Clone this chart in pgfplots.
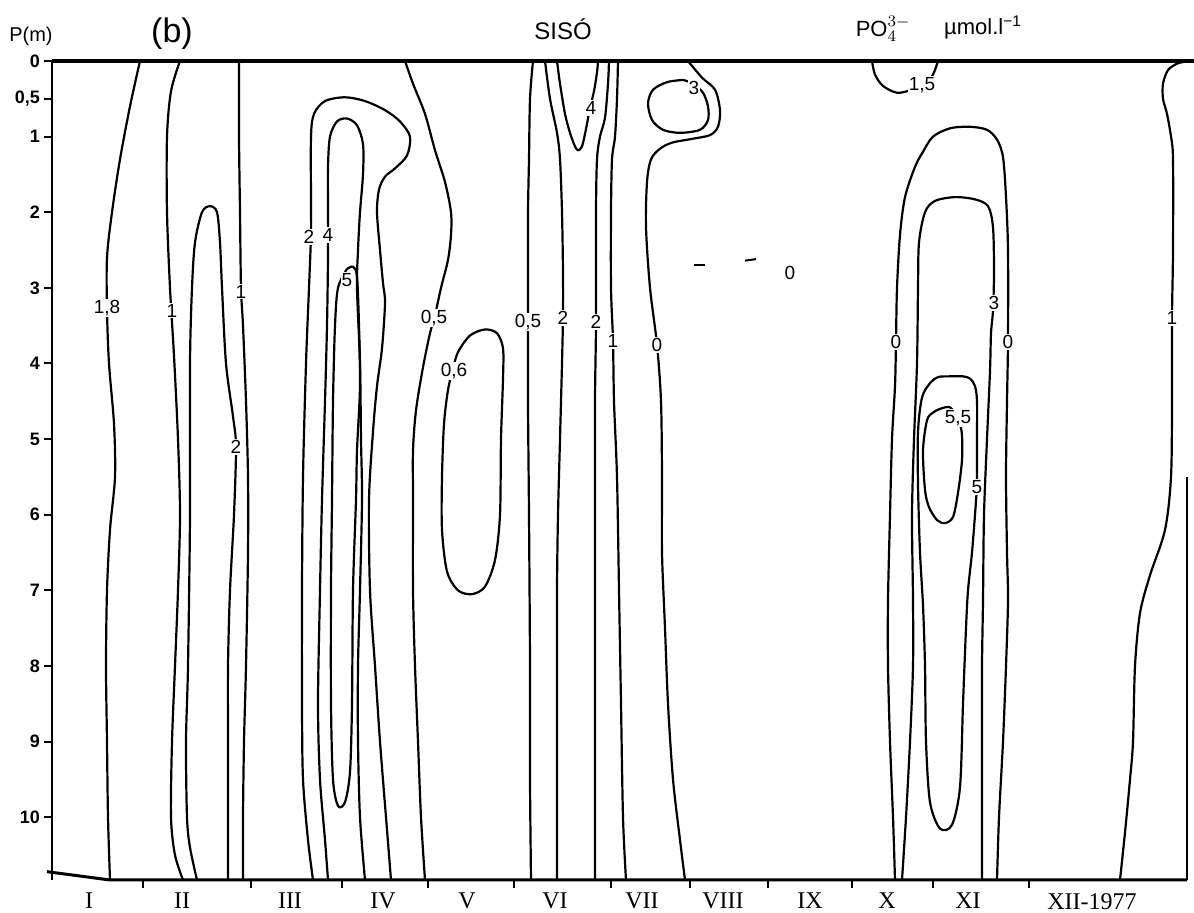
\documentclass[border=0pt]{standalone}
\usepackage{pgfplots}
\pgfplotsset{compat=1.18}
\usepackage{fontspec}
\setmainfont{Liberation Sans}
\newfontfamily\serifm{Liberation Serif}
\newcommand\lab{\fontsize{9.5}{10}\selectfont}
\pgfplotsset{cl/.style={black, solid, line width=1.1pt, smooth, mark=none}}
\begin{document}
\begin{tikzpicture}
\useasboundingbox (0,0) rectangle (597pt,456.5pt);
\begin{axis}[
  at={(26pt,16.5pt)}, anchor=south west,
  width=567.5pt, height=409.5pt, scale only axis,
  xmin=52, xmax=1187, ymin=0, ymax=10.83, y dir=reverse,
  axis line style={draw=none},
  clip=false,
  xtick={143,251,342,428,514,611,690,768,852,933,1029},
  xticklabels={},
  xtick pos=left,
  ytick={0,0.5,1,2,3,4,5,6,7,8,9,10},
  yticklabels={0,{0,5},1,2,3,4,5,6,7,8,9,10},
  ytick pos=left,
  tick align=outside,
  major tick length=4pt,
  tick style={line width=1pt, black},
  yticklabel style={font=\fontsize{9}{10}\selectfont\bfseries, xshift=1.5pt},
]
% frame
\draw[line width=2pt] (axis cs:52,0) -- (axis cs:1194,0);
\draw[line width=1.2pt] (axis cs:52,0) -- (axis cs:52,10.83);
\draw[line width=1.5pt] (axis cs:47,10.72) -- (axis cs:110,10.83) -- (axis cs:1187,10.83);
\draw[line width=1pt] (axis cs:1187,5.5) -- (axis cs:1187,10.83);

% 1.8
\addplot[cl] coordinates {(140,0)(130,0.6)(120,1.3)(112,2.0)(107,2.6)(107,3.3)(109,4.0)(114,4.8)(115,5.5)(110,6.2)(107,7.0)(106,8)(107,9)(108,10)(110,10.83)};
% 1 (II)
\addplot[cl] coordinates {(180,0)(171,0.4)(167,1)(167,2)(170,3)(174,3.9)(178,5)(180,6)(178,7)(175,8)(172,9)(171,10)(175,10.5)(183,10.83)};
% 2 (II, inverted U)
\addplot[cl] coordinates {(197,10.83)(190,10.4)(187,10)(186,9)(188,8)(190,6)(190,4)(192,3)(195,2.4)(202,2.0)(210,1.92)(217,2.0)(220,2.4)(222,3)(226,4)(233,4.7)(236,5.1)(234,6)(230,7)(228,8)(228,9)(228,10)(228,10.83)};
% 1 (II right)
\addplot[cl] coordinates {(239,0)(239,1)(240,2)(241,3.0)(243,3.5)(246,4.5)(248,5.5)(248,6.5)(246,8)(244,9)(243,10)(243,10.83)};
% 2 outer loop (III-IV)
\addplot[cl] coordinates {(313,10.83)(308,10.3)(303,9.5)(302,8.5)(302,7)(303,5.5)(306,4.0)(309,3.0)(311,2.3)(311,1.9)(311,1.0)(314,0.7)(325,0.53)(345,0.48)(365,0.53)(385,0.65)(400,0.8)(410,1.0)(407,1.25)(395,1.42)(385,1.53)(379,1.7)(377,2.0)(380,2.5)(383,2.94)(385,3.2)(382,3.8)(377,4.3)(373,4.9)(369,5.8)(370,7)(375,8)(380,9)(386,10)(391,10.83)};
% 4 loop (III-IV)
\addplot[cl] coordinates {(328,10.83)(325,10.3)(320,9.5)(318,8.5)(320,7)(322,5.8)(325,4.5)(327,3.5)(328,2.6)(328,2.0)(328,1.4)(330,1.0)(337,0.8)(347,0.76)(357,0.85)(363,1.1)(363,1.5)(360,2)(358,2.5)(357,3)(360,4)(361,5)(362,5.8)(360,7)(358,8)(358,9)(360,10)(365,10.83)};
% 5 loop
\addplot[cl] coordinates {(347,2.75)(338,3.0)(335,3.5)(333,4.5)(332,5.8)(331,7)(331,8.5)(333,9.5)(338,9.85)(345,9.8)(350,9.4)(352,8.5)(353,7)(356,5.8)(357,5.15)(360,4.3)(359,3.5)(357,2.85)(353,2.72)(347,2.75)};
% 0.5 (V)
\addplot[cl] coordinates {(405,0)(413,0.3)(425,0.7)(435,1.18)(445,1.6)(451,2.0)(451,2.3)(448,2.63)(441,3.0)(435,3.36)(430,3.6)(423,4.05)(416,4.62)(413,5.15)(413,5.8)(413,7)(415,8)(418,9)(421,10)(425,10.83)};
% 0.6 loop
\addplot[cl] coordinates {(453,4.07)(448,4.35)(444,4.8)(442,5.5)(442,6.2)(447,6.75)(458,7.0)(472,7.05)(485,6.95)(495,6.6)(500,6.0)(501,5.0)(503,4.2)(503,3.8)(497,3.6)(485,3.55)(470,3.63)(458,3.85)(453,4.07)};
% 0.5 (VI)
\addplot[cl] coordinates {(533,0)(530,0.5)(529,1.3)(528,2)(528,3.0)(528,4.5)(529,6)(530,8)(530,9.5)(531,10.83)};
% 2 (VI left)
\addplot[cl] coordinates {(545,0)(550,0.5)(557,0.95)(560,1.3)(562,2)(563,2.8)(563,3.35)(562,4)(560,5)(558,6)(557,7)(557,8.5)(557,10)(557,10.83)};
% 4 loop (VI)
\addplot[cl] coordinates {(557,0)(560,0.3)(565,0.7)(570,0.95)(575,1.13)(578,1.18)(582,1.13)(586,0.9)(590,0.62)(594,0.4)(597,0.15)(598,0)};
% 2 (VI right)
\addplot[cl] coordinates {(609,0)(608,0.3)(605,0.75)(600,1.0)(597,1.3)(596,2)(596,3.45)(595,4.5)(595,6)(595,8)(595,10.83)};
% 1 (VII)
\addplot[cl] coordinates {(618,0)(617,0.5)(615,1.0)(612,1.3)(611,2)(611,3)(613,3.7)(614,4.5)(617,5.5)(619,7)(621,8.5)(623,10)(626,10.83)};
% 0 (VII)
\addplot[cl] coordinates {(688,0)(702,0.22)(715,0.38)(720,0.65)(718,0.87)(710,0.98)(692,1.03)(672,1.08)(660,1.16)(651,1.3)(647,1.6)(646,2.2)(650,3.0)(657,3.75)(661,4.5)(662,5.5)(662,6.5)(665,7.5)(668,8.5)(673,9.5)(680,10.3)(685,10.83)};
% 3 loop (VII)
\addplot[cl] coordinates {(683,0.25)(693,0.3)(703,0.42)(708,0.6)(708,0.78)(700,0.91)(680,0.95)(663,0.91)(652,0.78)(648,0.56)(653,0.38)(667,0.28)(683,0.25)};
% dashes 0
\addplot[cl, line width=1pt] coordinates {(694,2.7)(705,2.7)};
\addplot[cl, line width=1pt] coordinates {(745,2.64)(756,2.62)};
% 1.5 PO4
\addplot[cl] coordinates {(872,0)(875,0.18)(883,0.33)(897,0.42)(912,0.38)(925,0.3)(933,0.18)(938,0)};
% 0 outer loop (X-XI)
\addplot[cl] coordinates {(895,10.83)(893,10)(890,9)(888,8)(888,7.13)(890,6)(892,5)(895,4.3)(896,3.7)(897,3.0)(900,2.3)(905,1.8)(915,1.4)(923,1.2)(933,1.0)(950,0.89)(970,0.87)(987,0.91)(997,1.04)(1003,1.27)(1006,1.8)(1008,2.5)(1008,3.7)(1007,4.5)(1006,5.5)(1007,6.5)(1008,7.13)(1006,8)(1003,9)(999,10)(997,10.83)};
% 3 loop (XI)
\addplot[cl] coordinates {(902,10.83)(906,10)(910,9)(913,8)(913,7.13)(912,6)(914,5)(917,4)(918,3.0)(919,2.4)(925,2.0)(935,1.85)(955,1.8)(975,1.83)(988,1.92)(993,2.2)(994,2.8)(993,3.3)(991,3.6)(990,4.1)(987,5)(984,6)(983,7.13)(982,8)(982,9)(982,10)(982,10.83)};
% 5 loop (XI)
\addplot[cl] coordinates {(977,5.63)(977,5.0)(977,4.5)(975,4.3)(970,4.2)(963,4.17)(950,4.17)(938,4.18)(930,4.26)(922,4.45)(918,4.9)(918,5.6)(920,6.5)(923,7.2)(925,8)(926,9)(930,9.8)(940,10.15)(952,10.1)(960,9.6)(963,8.5)(966,7.5)(968,7.0)(972,6.5)(975,6.0)(977,5.63)};
% 5.5 loop
\addplot[cl] coordinates {(958,4.72)(950,4.58)(940,4.6)(933,4.65)(927,4.75)(923,5.15)(925,5.67)(929,5.9)(937,6.07)(945,6.11)(953,6.03)(958,5.71)(962,5.28)(962,4.95)(960,4.8)(958,4.72)};
% 1 (XII)
\addplot[cl] coordinates {(1190,0)(1178,0.03)(1168,0.12)(1163,0.3)(1163,0.5)(1167,0.7)(1171,1.0)(1173,1.3)(1173,2.5)(1172,3.4)(1172,4.5)(1171,5.5)(1165,6.2)(1150,6.8)(1140,7.3)(1135,8)(1133,9)(1130,9.5)(1125,10.2)(1120,10.83)};

% contour labels
\begin{scope}[every node/.style={fill=white, inner sep=0.6pt, font=\lab}]
\node at (axis cs:107,3.27) {1,8};
\node at (axis cs:172,3.3) {1};
\node at (axis cs:236,5.1) {2};
\node at (axis cs:241,3.05) {1};
\node at (axis cs:309,2.33) {2};
\node at (axis cs:328,2.3) {4};
\node at (axis cs:347,2.9) {5};
\node at (axis cs:434,3.4) {0,5};
\node at (axis cs:454,4.1) {0,6};
\node at (axis cs:528,3.45) {0,5};
\node at (axis cs:563,3.4) {2};
\node at (axis cs:591,0.62) {4};
\node at (axis cs:596,3.45) {2};
\node at (axis cs:613,3.7) {1};
\node at (axis cs:657,3.75) {0};
\node at (axis cs:694,0.36) {3};
\node at (axis cs:790,2.8) {0};
\node at (axis cs:922,0.32) {1,5};
\node at (axis cs:896,3.72) {0};
\node at (axis cs:1008,3.72) {0};
\node at (axis cs:994,3.2) {3};
\node at (axis cs:958,4.72) {5,5};
\node at (axis cs:977,5.63) {5};
\node at (axis cs:1172,3.4) {1};
\end{scope}

% month labels
\begin{scope}[every node/.style={anchor=north, font=\serifm\fontsize{12}{12}\selectfont, inner sep=0pt}]
\node at (axis cs:89,11.0) {I};
\node at (axis cs:182,11.0) {II};
\node at (axis cs:290,11.0) {III};
\node at (axis cs:383,11.0) {IV};
\node at (axis cs:467,11.0) {V};
\node at (axis cs:555,11.0) {VI};
\node at (axis cs:642,11.0) {VII};
\node at (axis cs:723,11.0) {VIII};
\node at (axis cs:810,11.0) {IX};
\node at (axis cs:887,11.0) {X};
\node at (axis cs:968,11.0) {XI};
\node at (axis cs:1092,11.0) {XII-1977};
\end{scope}

% titles
\node[font=\fontsize{10}{10}\selectfont] at (axis cs:31,-0.32) {P(m)};
\node[font=\fontsize{17}{17}\selectfont] at (axis cs:172,-0.36) {(b)};
\node[font=\fontsize{12}{12}\selectfont] at (axis cs:563,-0.42) {SISÓ};
\node[font=\fontsize{11}{11}\selectfont] at (axis cs:883,-0.42) {PO$_4^{3-}$};
\node[font=\fontsize{11}{11}\selectfont] at (axis cs:983,-0.44) {µmol.l\textsuperscript{−1}};
\end{axis}
\end{tikzpicture}
\end{document}
